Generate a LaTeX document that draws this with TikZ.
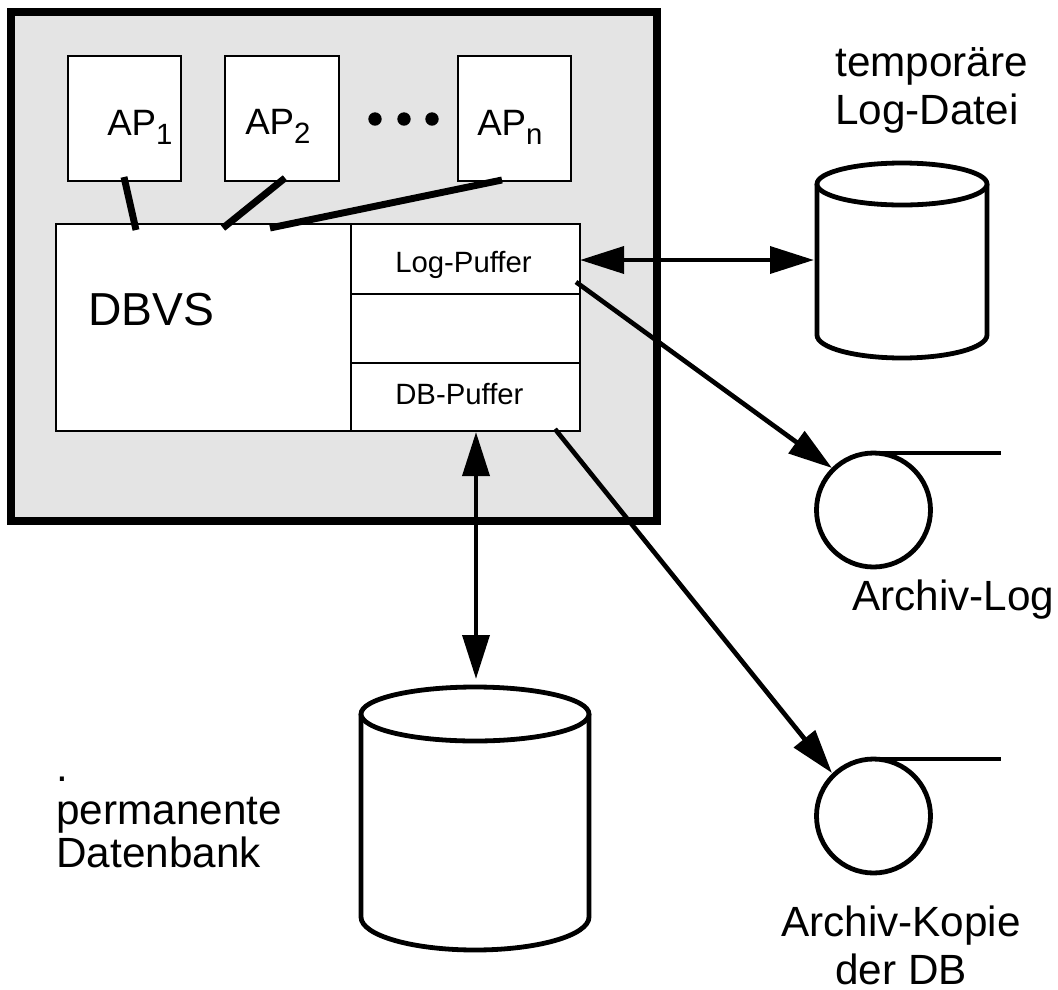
\documentclass[tikz,border=0pt]{standalone}
\usepackage{fontspec}
\setmainfont{Liberation Sans}
\usetikzlibrary{arrows.meta}
\definecolor{shade}{gray}{0.895}
\tikzset{
  x=0.75pt,y=-0.75pt,
  thinbox/.style={draw=black,line width=1.2pt,fill=white},
  thinline/.style={line width=1.1pt},
  link/.style={line width=5.2pt},
  arrowhd/.tip={Triangle[length=33pt,width=20pt]},
  dbl/.style={line width=3.5pt,arrowhd-arrowhd},
  sgl/.style={line width=3.5pt,-arrowhd},
  shp/.style={line width=3.6pt},
  lbl/.style={font=\fontsize{31.7}{36}\selectfont,inner sep=0pt},
  aplbl/.style={font=\fontsize{27.5}{32}\selectfont,inner sep=0pt,anchor=base west},
  lbs/.style={font=\fontsize{22}{26}\selectfont,inner sep=0pt,anchor=base west},
}
\newcommand{\subt}[1]{\raisebox{-7pt}{\fontsize{22}{26}\selectfont #1}}
\newcommand{\cyl}[6]{%
  \path[draw=black,fill=white,shp] (#1,#3) -- (#1,#4) arc[start angle=180,end angle=0,x radius=#5,y radius=#6] -- ({#1+2*#5},#3);
  \path[draw=black,fill=white,shp] (#1+#5,#3) ellipse[x radius=#5,y radius=#2];
}
\begin{document}
\begin{tikzpicture}
\useasboundingbox (0,0) rectangle (1058,990);
\fill[white] (0,0) rectangle (1058,990);
% frame
\path[draw=black,fill=shade,line width=5.6pt] (11,12) rectangle (657,521);
% AP boxes
\path[thinbox] (68,56) rectangle (181,181);
\path[thinbox] (225,56) rectangle (339,181);
\path[thinbox] (458,56) rectangle (571,181);
\node[aplbl] (ap1) at (107,135) {AP\subt{1}};
\node[aplbl] (ap2) at (245,134) {AP\subt{2}};
\node[aplbl] (apn) at (477,135) {AP\subt{n}};
\foreach \xx in {375,404,432} \fill (\xx,119) circle (6.7);
% DBVS
\path[draw=black,fill=white,line width=1.9pt] (56,224) rectangle (580,431);
\draw[thinline] (351,224) -- (351,431);
\draw[thinline] (351,294) -- (580,294);
\draw[thinline] (351,363) -- (580,363);
\node[lbs] (lp) at (395,272) {Log-Puffer};
\node[lbs] (dp) at (395,404) {DB-Puffer};
\node[inner sep=0pt,anchor=base west,font=\fontsize{34.7}{40}\selectfont] (dbvs) at (88,325) {DBVS};
% links
\coordinate (ap1b) at (124,177);
\coordinate (ap2b) at (285,178);
\coordinate (apnb) at (502,180);
\coordinate (db1) at (136,230);
\coordinate (db2) at (223,228);
\coordinate (db3) at (270,228);
\draw[link] (ap1b) -- (db1);
\draw[link] (ap2b) -- (db2);
\draw[link] (apnb) -- (db3);
% cylinders
\cyl{817}{21}{184}{335}{85}{23}
\cyl{361}{27}{714}{917}{114}{33}
% tapes
\draw[shp] (873.5,510) circle (57);
\draw[shp] (873.5,453) -- (1001,453);
\draw[shp] (873.5,816) circle (57);
\draw[shp] (873.5,759) -- (1001,759);
% connectors
\coordinate (a) at (580,260);
\coordinate (b) at (814,260);
\draw[dbl] (a) -- (b);
\coordinate (c) at (476,432);
\coordinate (d) at (476,679);
\draw[dbl] (c) -- (d);
\coordinate (e) at (576,282);
\coordinate (f) at (832,468);
\draw[sgl] (e) -- (f);
\coordinate (g) at (555,429);
\coordinate (h) at (832,773);
\draw[sgl] (g) -- (h);
% labels
\node[lbl,align=left,anchor=south west] (t1) at (835,134) {temporäre\\Log-Datei};
\node[lbl,anchor=base west] (t2) at (852,610) {Archiv-Log};
\node[lbl,align=center,anchor=south] (t3) at (901,985) {Archiv-Kopie\\der DB\hspace{9pt}};
\node[lbl,align=left,anchor=south west] (t4) at (56,868) {.\\[-4pt]permanente\\[-4pt]Datenbank};
\end{tikzpicture}
\end{document}
